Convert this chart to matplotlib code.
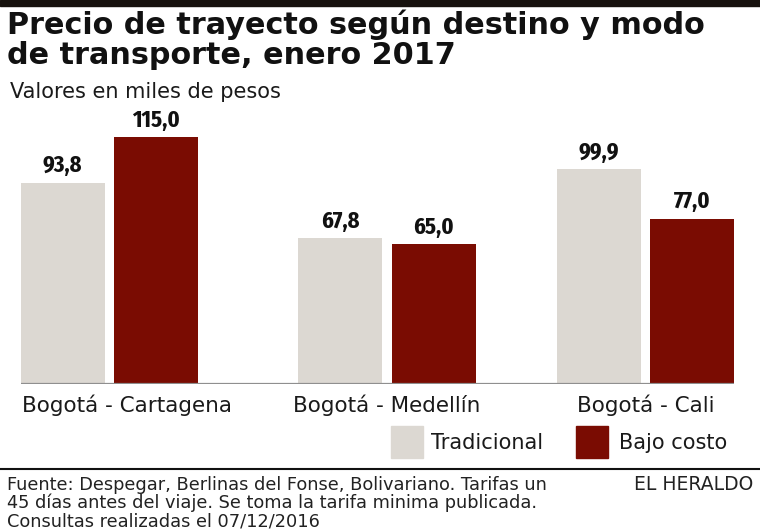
import matplotlib
matplotlib.use("Agg")
import matplotlib.pyplot as plt
from matplotlib.patches import Rectangle
from matplotlib.lines import Line2D
import matplotlib.transforms as mtransforms

# ---- data ----
categories = ["Bogotá - Cartagena", "Bogotá - Medellín", "Bogotá - Cali"]
series_names = ["Tradicional", "Bajo costo"]
tradicional = [93.8, 67.8, 99.9]
bajo_costo = [115.0, 65.0, 77.0]
title_lines = ["Precio de trayecto según destino y modo", "de transporte, enero 2017"]
subtitle = "Valores en miles de pesos"
source_lines = ["Fuente: Despegar, Berlinas del Fonse, Bolivariano. Tarifas un",
                "45 días antes del viaje. Se toma la tarifa minima publicada.",
                "Consultas realizadas el 07/12/2016"]
brand = "EL HERALDO"

# ---- style / layout ----
W, H = 760, 530
GRAY = "#dcd8d2"
RED = "#7a0c02"
colors = [GRAY, RED]
MAIN = ["DejaVu Sans"]
NUM = ["Fira Sans Extra Condensed", "Roboto Condensed", "DejaVu Sans"]
group_pos = [0.0, 1.035, 2.0]
bar_w = 0.313
offset = 0.1745
label_shift = [0.067, 0.0, 0.0]

def fx(px):
    return px / W

def fy(py):
    return 1 - py / H

fig = plt.figure(figsize=(W / 100, H / 100), dpi=100)
fig.patch.set_facecolor("white")

# top black band
fig.patches.append(Rectangle((0, fy(6)), 1, 6 / H, transform=fig.transFigure,
                             color="#17120e", zorder=0))

# axes: baseline at 384px, 2.148 px per unit
ymax = 120
px_per_unit = 2.148
ax = fig.add_axes([0, fy(384), 1, ymax * px_per_unit / H])
ax.set_xlim(-109.5 / 268, (760 - 109.5) / 268)
ax.set_ylim(0, ymax)
ax.axis("off")

for si, vals in enumerate([tradicional, bajo_costo]):
    xs = [g + (2 * si - 1) * offset for g in group_pos]
    bars = ax.bar(xs, vals, width=bar_w, color=colors[si], zorder=2)
    for b, v in zip(bars, vals):
        ax.annotate(f"{v:.1f}".replace(".", ","),
                    xy=(b.get_x() + b.get_width() / 2, v),
                    xytext=(0, 7.5), textcoords="offset points",
                    ha="center", va="baseline", fontsize=17.5, fontweight="bold",
                    family=NUM, color="#111111", annotation_clip=False)

left = group_pos[0] - offset - bar_w / 2
right = group_pos[-1] + offset + bar_w / 2
ax.hlines(0, left, right, color="#8f8f8f", lw=1.6, zorder=3)

# category labels
trans = mtransforms.blended_transform_factory(ax.transData, fig.transFigure)
for g, c, s in zip(group_pos, categories, label_shift):
    ax.text(g + s, fy(412), c, transform=trans, ha="center", va="baseline",
            fontsize=15.5, color="#1a1a1a", family=MAIN)

# title & subtitle
for i, line in enumerate(title_lines):
    fig.text(fx(7), fy(34 + 30 * i), line, ha="left", va="baseline",
             fontsize=21.8, fontweight="bold", color="#111111", family=MAIN)
fig.text(fx(10), fy(98), subtitle, ha="left", va="baseline",
         fontsize=15, color="#1a1a1a", family=MAIN)

# legend
leg_boxes = [(391, 431), (576, 619)]
for (bx, tx), name, col in zip(leg_boxes, series_names, colors):
    fig.patches.append(Rectangle((fx(bx), fy(458)), 32 / W, 32 / H,
                                 transform=fig.transFigure, color=col))
    fig.text(fx(tx), fy(449), name, ha="left", va="baseline", fontsize=15,
             color="#1a1a1a", family=MAIN)

# separator
fig.lines.append(Line2D([0, 1], [fy(469), fy(469)], transform=fig.transFigure,
                        color="#111111", lw=1.5))

# footer
for i, line in enumerate(source_lines):
    fig.text(fx(7), fy(490 + 18.3 * i), line, ha="left", va="baseline",
             fontsize=12.8, color="#222222", family=MAIN)
fig.text(fx(753), fy(490), brand, ha="right", va="baseline",
         fontsize=13.5, color="#222222", family=MAIN)

fig.savefig("out.png", dpi=100)
